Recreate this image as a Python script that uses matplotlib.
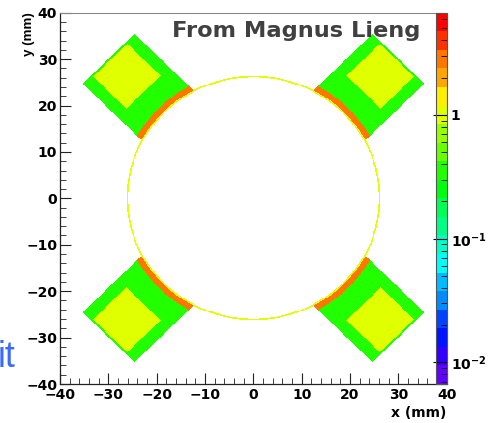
import colorsys
import numpy as np
import matplotlib
matplotlib.use("Agg")
import matplotlib.pyplot as plt
from matplotlib.colors import ListedColormap, LogNorm
from matplotlib.ticker import MultipleLocator, LogLocator, NullFormatter

# ---------------- data ----------------
x_range_mm = [-40.0, 40.0]
y_range_mm = [-40.0, 40.0]
bin_width_mm = 0.2

# four detector modules around the beam pipe, at these azimuthal angles
module_angles_deg = [45, 135, 225, 315]

ring_radius_mm = 26.1          # thin ring of hits on the beam pipe
ring_half_width_mm = 0.17
edge_band_outer_mm = 27.5      # orange arc where modules touch the pipe
module_half_width_mm = 7.6     # green module footprint
module_outer_mm = 42.3
core_half_width_mm = 5.05      # yellow core region
core_inner_mm = 32.2
core_outer_mm = 42.0

region_names = ["ring", "edge band", "module", "core"]
region_values = [0.95, 2.8, 0.36, 1.0]

z_min = 0.0067
z_max = 6.7
n_contours = 20

x_ticks = [-40, -30, -20, -10, 0, 10, 20, 30, 40]
y_ticks = [-40, -30, -20, -10, 0, 10, 20, 30, 40]
cbar_tick_values = [0.01, 0.1, 1]
cbar_tick_labels = [r"$10^{-2}$", r"$10^{-1}$", "1"]

# ---------------- style ----------------
plt.rcParams["font.family"] = ["DejaVu Sans"]
plt.rcParams["font.weight"] = "bold"
plt.rcParams["mathtext.fontset"] = "dejavusans"
plt.rcParams["mathtext.default"] = "bf"

W, H = 492, 423
fig = plt.figure(figsize=(W / 100, H / 100), dpi=100)
fig.patch.set_facecolor("white")

# ---------------- build histogram ----------------
vals = dict(zip(region_names, region_values))
edges_x = np.arange(x_range_mm[0], x_range_mm[1] + bin_width_mm / 2, bin_width_mm)
edges_y = np.arange(y_range_mm[0], y_range_mm[1] + bin_width_mm / 2, bin_width_mm)
cx = 0.5 * (edges_x[:-1] + edges_x[1:])
cy = 0.5 * (edges_y[:-1] + edges_y[1:])
X, Y = np.meshgrid(cx, cy)
R = np.hypot(X, Y)
Z = np.zeros_like(X)
Z[np.abs(R - ring_radius_mm) <= ring_half_width_mm] = vals["ring"]
for ang in module_angles_deg:
    t = np.deg2rad(ang)
    U = X * np.cos(t) + Y * np.sin(t)
    V = -X * np.sin(t) + Y * np.cos(t)
    inside = (np.abs(V) <= module_half_width_mm) & (U <= module_outer_mm) & (U > 0)
    band = inside & (R > ring_radius_mm + ring_half_width_mm) & (R <= edge_band_outer_mm)
    frame = inside & (R > edge_band_outer_mm)
    core = (np.abs(V) <= core_half_width_mm) & (U >= core_inner_mm) & (U <= core_outer_mm)
    Z[frame] = vals["module"]
    Z[core] = vals["core"]
    Z[band] = vals["edge band"]
Zm = np.ma.masked_less_equal(Z, 0)


def root_pretty_color(i, n=50, max_hue=280.0):
    hue = max_hue - (i + 1) * (max_hue / n)
    return colorsys.hls_to_rgb(hue / 360.0, 0.5, 1.0)


band_colors = [root_pretty_color(int((j + 0.99) * 50 / n_contours)) for j in range(n_contours)]
cmap = ListedColormap(band_colors)
cmap.set_bad("white")
norm = LogNorm(vmin=z_min, vmax=z_max)

# ---------------- axes ----------------
ax_l, ax_r = 60 / W, 446.6 / W
ax_b, ax_t = 1 - 384 / H, 1 - 12.7 / H
ax = fig.add_axes([ax_l, ax_b, ax_r - ax_l, ax_t - ax_b])
im = ax.imshow(Zm, origin="lower", extent=[x_range_mm[0], x_range_mm[1], y_range_mm[0], y_range_mm[1]],
               cmap=cmap, norm=norm, interpolation="nearest", aspect="auto")
ax.set_xlim(x_range_mm)
ax.set_ylim(y_range_mm)
ax.set_xticks(x_ticks)
ax.set_yticks(y_ticks)
ax.xaxis.set_minor_locator(MultipleLocator(2))
ax.yaxis.set_minor_locator(MultipleLocator(2))
ax.tick_params(which="major", direction="in", length=8, width=0.8, labelsize=10,
               top=False, right=False, color="#222222")
ax.tick_params(axis="y", which="major", pad=2)
ax.tick_params(axis="x", which="major", pad=3)
ax.tick_params(which="minor", direction="in", length=4, width=0.6, top=False, right=False,
               color="#222222")
for s in ["left", "bottom"]:
    ax.spines[s].set_color("#222222")
    ax.spines[s].set_linewidth(0.9)
ax.spines["top"].set_color("#888888")
ax.spines["top"].set_linewidth(0.8)
ax.spines["right"].set_visible(False)

# ---------------- palette (colour bar) ----------------
cax = fig.add_axes([435.7 / W, ax_b, 11 / W, ax_t - ax_b])
cb = fig.colorbar(im, cax=cax)
cb.set_ticks(cbar_tick_values, labels=cbar_tick_labels)
cax.yaxis.set_minor_locator(LogLocator(base=10, subs=np.arange(2, 10)))
cax.yaxis.set_minor_formatter(NullFormatter())
cax.tick_params(which="major", direction="in", length=10, width=0.8, labelsize=10, pad=3)
cax.tick_params(which="minor", direction="in", length=4.5, width=0.6)
cb.outline.set_edgecolor("#555555")
cb.outline.set_linewidth(0.8)

# ---------------- texts ----------------
fig.text(172 / W, 1 - 37.3 / H, "From Magnus Lieng", fontsize=16.2, fontweight="bold",
         color="#404040", ha="left", va="baseline")
fig.text(446.6 / W, 1 - 413 / H, "x (mm)", fontsize=10, fontweight="bold",
         ha="right", va="center")
fig.text(29 / W, 1 - 12 / H, "y (mm)", fontsize=9.6, fontweight="bold",
         family=["Liberation Sans", "DejaVu Sans"], rotation=90, ha="center", va="top")
fig.text(15.5 / W, 1 - 367 / H, "it", fontsize=26, fontweight="normal",
         family=["Liberation Sans", "DejaVu Sans"], color="#3a6aff", ha="right", va="baseline")

fig.savefig("out.png", dpi=100)
